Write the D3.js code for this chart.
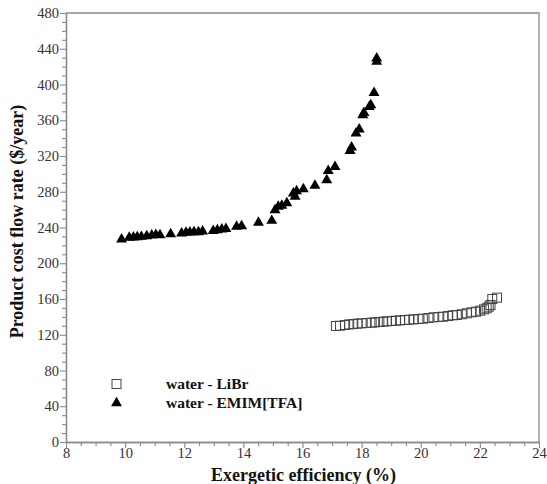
<!DOCTYPE html>
<html>
<head>
<meta charset="utf-8">
<script src="https://cdn.jsdelivr.net/npm/d3@7/dist/d3.min.js"></script>
<style>
  html, body { margin: 0; padding: 0; background: #fff; }
  svg { display: block; }
  .tick text { font-family: "Liberation Serif", "Times New Roman", serif; font-size: 14.5px; fill: #333; }
  .axis-title { font-family: "Liberation Serif", "Times New Roman", serif; font-weight: bold; font-size: 18px; fill: #111; }
  .legend-text { font-family: "Liberation Serif", "Times New Roman", serif; font-weight: bold; font-size: 15.5px; fill: #111; }
</style>
</head>
<body>
<svg id="chart" width="547" height="484"></svg>
<script>
// Exergetic efficiency (%) vs. product cost flow rate ($/year)
const librEff = [17.13, 17.27, 17.44, 17.58, 17.72, 17.86, 18.00, 18.17, 18.34, 18.45,
  18.60, 18.73, 18.85, 19.02, 19.16, 19.30, 19.47, 19.61, 19.75, 19.92,
  20.07, 20.26, 20.43, 20.60, 20.76, 20.93, 21.08, 21.22, 21.39, 21.56,
  21.72, 21.87, 22.01, 22.14, 22.23, 22.30, 22.36, 22.42, 22.58];
const librCost = [129.8, 130.1, 130.9, 131.6, 132.0, 132.4, 132.8, 133.1, 133.5, 133.9,
  134.3, 134.6, 135.0, 135.4, 135.7, 136.1, 136.5, 136.8, 137.2, 137.6,
  138.0, 138.7, 139.5, 139.9, 140.2, 141.0, 141.7, 142.1, 142.9, 144.0,
  145.1, 145.8, 146.9, 148.4, 149.6, 151.4, 153.3, 160.0, 161.5];

const emimEff = [9.88, 10.14, 10.28, 10.41, 10.55, 10.73, 10.90, 11.04, 11.18, 11.54,
  11.91, 12.06, 12.19, 12.33, 12.48, 12.62, 12.98, 13.12, 13.27, 13.41,
  13.77, 13.94, 14.51, 14.96, 15.07, 15.18, 15.30, 15.47, 15.69, 15.75,
  15.80, 16.03, 16.42, 16.82, 16.87, 17.10, 17.61, 17.66, 17.81, 17.92,
  18.04, 18.08, 18.26, 18.31, 18.42, 18.51, 18.51];
const emimCost = [226.8, 228.6, 229.0, 229.4, 229.7, 230.5, 231.2, 231.9, 231.6, 232.7,
  233.5, 234.2, 234.6, 235.0, 235.0, 235.7, 236.4, 237.2, 238.0, 238.6,
  240.9, 241.7, 245.4, 247.6, 259.6, 263.3, 264.6, 267.4, 278.3, 274.5,
  280.8, 283.1, 286.8, 293.1, 303.5, 308.0, 325.9, 329.7, 345.4, 349.9,
  365.9, 368.4, 375.1, 377.0, 390.8, 425.5, 429.3];

const xTicks = [8, 10, 12, 14, 16, 18, 20, 22, 24];
const yTicks = [0, 40, 80, 120, 160, 200, 240, 280, 320, 360, 400, 440, 480];
const seriesNames = ["water - LiBr", "water - EMIM[TFA]"];

const svg = d3.select("#chart");
const plot = { left: 66, right: 539, top: 13, bottom: 442 };
const axisColor = "#8a8a8a";

const x = d3.scaleLinear().domain([8, 24]).range([plot.left, plot.right]);
const y = d3.scaleLinear().domain([0, 480]).range([plot.bottom, plot.top]);

// frame: top and right edges
svg.append("path")
  .attr("d", `M${plot.left},${plot.top}H${plot.right}V${plot.bottom}`)
  .attr("fill", "none").attr("stroke", axisColor).attr("stroke-width", 1.3);

// minor ticks
const xMinor = d3.range(8, 24.001, 0.5).filter(v => !xTicks.includes(v));
const yMinor = d3.range(0, 480.001, 10).filter(v => !yTicks.includes(v));

const gx = svg.append("g").attr("transform", `translate(0,${plot.bottom})`);
gx.call(d3.axisBottom(x).tickValues(xMinor).tickSize(4).tickSizeOuter(0).tickFormat(""));
gx.append("g").call(d3.axisBottom(x).tickValues(xTicks).tickSize(6).tickSizeOuter(0).tickPadding(0).tickFormat(d3.format("d")));

const gy = svg.append("g").attr("transform", `translate(${plot.left},0)`);
gy.call(d3.axisLeft(y).tickValues(yMinor).tickSize(4).tickSizeOuter(0).tickFormat(""));
gy.append("g").call(d3.axisLeft(y).tickValues(yTicks).tickSize(6).tickSizeOuter(0).tickPadding(1).tickFormat(d3.format("d")));

svg.selectAll(".domain").attr("stroke", axisColor).attr("stroke-width", 1.3);
svg.selectAll(".tick line").attr("stroke", axisColor).attr("stroke-width", 1.1);

// axis titles
svg.append("text").attr("class", "axis-title")
  .attr("x", (plot.left + plot.right) / 2 + 1).attr("y", 481)
  .attr("text-anchor", "middle").text("Exergetic efficiency (%)");
svg.append("text").attr("class", "axis-title")
  .attr("transform", `translate(23,${(plot.top + plot.bottom) / 2 - 6}) rotate(-90)`)
  .attr("text-anchor", "middle").text("Product cost flow rate ($/year)");

// markers
const sq = 9;
const triangle = d3.symbol().type(d3.symbolTriangle).size(52);

svg.append("g").selectAll("rect")
  .data(d3.zip(librEff, librCost))
  .join("rect")
  .attr("x", d => x(d[0]) - sq / 2).attr("y", d => y(d[1]) - sq / 2)
  .attr("width", sq).attr("height", sq)
  .attr("fill", "none").attr("stroke", "#444").attr("stroke-width", 1);

svg.append("g").selectAll("path")
  .data(d3.zip(emimEff, emimCost))
  .join("path")
  .attr("transform", d => `translate(${x(d[0])},${y(d[1])})`)
  .attr("d", triangle).attr("fill", "#000");

// legend
const legend = svg.append("g");
legend.append("rect").attr("x", 112).attr("y", 379.5).attr("width", 9).attr("height", 9)
  .attr("fill", "none").attr("stroke", "#444").attr("stroke-width", 1);
legend.append("path").attr("transform", "translate(116.5,403)").attr("d", triangle).attr("fill", "#000");
legend.append("text").attr("class", "legend-text").attr("x", 166).attr("y", 389).text(seriesNames[0]);
legend.append("text").attr("class", "legend-text").attr("x", 166).attr("y", 408).text(seriesNames[1]);
</script>
</body>
</html>
